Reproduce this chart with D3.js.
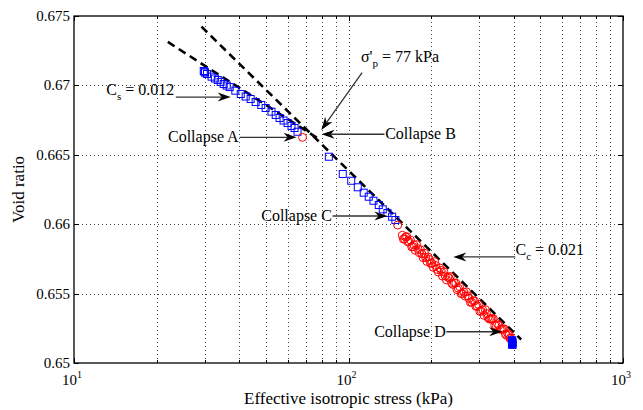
<!DOCTYPE html>
<html>
<head>
<meta charset="utf-8">
<script src="https://cdn.jsdelivr.net/npm/d3@7"></script>
<style>
  body { margin: 0; background: #fff; }
  svg { display: block; font-family: "Liberation Serif", "Times New Roman", serif; }
</style>
</head>
<body>
<div id="chart"></div>
<script>
// stage 1 : reloading, blue squares
const stressLoad1 = [29.7, 29.9, 30.0, 30.5, 31.7, 32.6, 33.4, 34.2, 35.1, 36.0, 36.9, 38.7, 40.5, 42.2, 44.0, 45.9, 48.1, 49.9, 52.4, 54.3, 56.1, 58.0, 60.0, 62.0, 63.6, 65.2];
const voidLoad1 = [0.67104, 0.67098, 0.67092, 0.67082, 0.67063, 0.6705, 0.67039, 0.67025, 0.6701, 0.66999, 0.66988, 0.66962, 0.66938, 0.6692, 0.66902, 0.6688, 0.66859, 0.66837, 0.66811, 0.66787, 0.66765, 0.66747, 0.66729, 0.66708, 0.66693, 0.66666];

// stage 2 : after collapse A/B
const stressLoad2 = [84.8, 95.3, 102.3, 108.1, 113.6, 118.5, 123.3, 128.9, 133.3, 138.6, 144.2, 148.2];
const voidLoad2 = [0.66486, 0.66362, 0.66313, 0.66266, 0.66227, 0.66198, 0.66169, 0.66138, 0.66107, 0.66081, 0.66054, 0.6603];

// collapse points (red circles on the blue path)
const collapseStress = [68.0, 151.1];
const collapseVoid = [0.66626, 0.65994];

// stage 3 : red circles
const stressLoad3 = [157, 160, 163, 166, 170, 173, 177, 181, 185, 189, 193, 197, 201, 206, 210, 215, 220, 225, 230, 235, 240, 246, 251, 257, 263, 269, 275, 281, 288, 294, 301, 308, 315, 322, 330, 337, 345, 353, 361, 369, 377, 385, 390];
const voidLoad3 = [0.6592, 0.65895, 0.6591, 0.65875, 0.65836, 0.65851, 0.65853, 0.65795, 0.65787, 0.6579, 0.65732, 0.65746, 0.6572, 0.6573, 0.65674, 0.65685, 0.65626, 0.65628, 0.6562, 0.65623, 0.65566, 0.65576, 0.65539, 0.655, 0.65511, 0.65513, 0.65465, 0.65438, 0.65447, 0.65411, 0.65372, 0.65383, 0.65385, 0.65327, 0.65317, 0.6532, 0.65271, 0.65272, 0.65244, 0.65246, 0.65199, 0.65202, 0.65181];
const stressLoad3b = [158.5, 161.5, 164.5, 168, 171.5, 175, 179, 183, 187, 191, 195, 199, 203.5, 208, 212.5, 217.5, 222.5, 227.5, 232.5, 237.5, 243, 248.5, 254, 260, 266, 272, 278, 284.5, 291, 297.5, 304.5, 311.5, 318.5, 326, 333.5, 341, 349, 357, 365, 373, 381, 387.5];
const voidLoad3b = [0.65893, 0.65908, 0.65873, 0.65886, 0.65839, 0.65812, 0.65824, 0.65816, 0.65759, 0.65761, 0.65764, 0.65718, 0.6569, 0.65702, 0.65655, 0.65666, 0.65657, 0.65599, 0.65612, 0.65575, 0.65576, 0.65528, 0.6555, 0.655, 0.65482, 0.65484, 0.65437, 0.65448, 0.65409, 0.65422, 0.65373, 0.65344, 0.65356, 0.65317, 0.65319, 0.65271, 0.65282, 0.65243, 0.65245, 0.65208, 0.65211, 0.65177];

// collapse D stack (blue)
const stressEnd = [394, 395, 396, 395, 394, 396];
const voidEnd = [0.65164, 0.65156, 0.65148, 0.6514, 0.65134, 0.65131];

// fitted lines [stress, void]
const csLine = [[21.97, 0.67313], [77, 0.66621]];
const ccLine = [[29.13, 0.67423], [425.7, 0.65169]];

const yTicks = [0.65, 0.655, 0.66, 0.665, 0.67, 0.675];
const xMajor = [10, 100, 1000];
const xExp = ["1", "2", "3"];

// annotations: text, anchor point, arrow from -> to (data units)
const notes = [
  { label: "Cs", value: " = 0.012", anchor: "end", at: [23.2, 0.66931], from: [23.49, 0.66916], to: [37.23, 0.66916] },
  { label: "Collapse A", anchor: "end", at: [39.8, 0.66626], from: [40.14, 0.66626], to: [64.7, 0.66626], mid: true },
  { label: "Collapse B", anchor: "start", at: [136, 0.66648], from: [135.2, 0.66648], to: [79.8, 0.66648], mid: true },
  { label: "σ'p", value: " = 77 kPa", anchor: "start", at: [111, 0.67169], from: [112.1, 0.67092], to: [79.6, 0.66679] },
  { label: "Collapse C", anchor: "end", at: [87.0, 0.66059], from: [87.5, 0.66059], to: [138.6, 0.66059], mid: true },
  { label: "Cc", value: " = 0.021", anchor: "start", at: [406, 0.65776], from: [404.9, 0.65764], to: [240.9, 0.65764] },
  { label: "Collapse D", anchor: "end", at: [226, 0.65225], from: [227.2, 0.65225], to: [363.1, 0.65225], mid: true }
];

const width = 643, height = 410;
const margin = { top: 16, right: 20, bottom: 47, left: 74 };

const x = d3.scaleLog().domain([10, 1000]).range([margin.left, width - margin.right]);
const y = d3.scaleLinear().domain([0.65, 0.675]).range([height - margin.bottom, margin.top]);

const svg = d3.select("#chart").append("svg")
    .attr("width", width)
    .attr("height", height);

svg.append("rect").attr("width", width).attr("height", height).attr("fill", "#fff");

const x0 = margin.left, x1 = width - margin.right, y0 = height - margin.bottom, y1 = margin.top;

// grid
const xGrid = [];
[10, 100].forEach(d => { for (let k = 2; k <= 10; k++) xGrid.push(d * k); });
const xGridLines = xGrid.filter(d => d < 1000);
const grid = svg.append("g").attr("stroke", "#444").attr("stroke-width", 1).attr("stroke-dasharray", "1,3");
grid.selectAll(".gx").data(xGridLines).join("line")
    .attr("x1", d => Math.round(x(d)) + 0.5).attr("x2", d => Math.round(x(d)) + 0.5)
    .attr("y1", y0).attr("y2", y1);
grid.selectAll(".gy").data(yTicks.slice(1, -1)).join("line")
    .attr("x1", x0).attr("x2", x1)
    .attr("y1", d => Math.round(y(d)) + 0.5).attr("y2", d => Math.round(y(d)) + 0.5);

// ticks (inward, all four sides)
const ticks = svg.append("g").attr("stroke", "#000").attr("stroke-width", 1);
ticks.selectAll(".ty").data(yTicks).join("g").each(function (d) {
  const yy = Math.round(y(d)) + 0.5;
  d3.select(this).append("line").attr("x1", x0).attr("x2", x0 + 5).attr("y1", yy).attr("y2", yy);
  d3.select(this).append("line").attr("x1", x1).attr("x2", x1 - 5).attr("y1", yy).attr("y2", yy);
});
ticks.selectAll(".tx").data(xGridLines.concat(xMajor)).join("g").each(function (d) {
  const xx = Math.round(x(d)) + 0.5;
  const len = xMajor.includes(d) ? 5 : 3;
  d3.select(this).append("line").attr("x1", xx).attr("x2", xx).attr("y1", y0).attr("y2", y0 - len);
  d3.select(this).append("line").attr("x1", xx).attr("x2", xx).attr("y1", y1).attr("y2", y1 + len);
});

// box
svg.append("rect")
    .attr("x", x0).attr("y", y1)
    .attr("width", x1 - x0).attr("height", y0 - y1)
    .attr("fill", "none").attr("stroke", "#000").attr("stroke-width", 1.3);

// tick labels
svg.append("g").selectAll("text").data(yTicks).join("text")
    .attr("x", x0 - 4).attr("y", d => y(d) + 5)
    .attr("text-anchor", "end").attr("font-size", 15)
    .text(d => String(+d.toFixed(3)));

const xl = svg.append("g").selectAll("text").data(xMajor).join("text")
    .attr("x", d => x(d) - 2).attr("y", y0 + 22)
    .attr("text-anchor", "middle").attr("font-size", 15);
xl.append("tspan").text("10");
xl.append("tspan").attr("dy", -7).attr("font-size", 10).text((d, i) => xExp[i]);

// axis titles
svg.append("text")
    .attr("x", (x0 + x1) / 2).attr("y", 404)
    .attr("text-anchor", "middle").attr("font-size", 17)
    .text("Effective isotropic stress (kPa)");
svg.append("text")
    .attr("transform", `translate(24,${(y0 + y1) / 2}) rotate(-90)`)
    .attr("text-anchor", "middle").attr("font-size", 17)
    .text("Void ratio");

// fitted dashed lines
const line = d3.line().x(d => x(d[0])).y(d => y(d[1]));
svg.append("g").selectAll("path").data([csLine, ccLine]).join("path")
    .attr("d", line)
    .attr("fill", "none").attr("stroke", "#000")
    .attr("stroke-width", 2.6).attr("stroke-dasharray", "8,5");

// data
const sq = 7;
const pts = (s, v) => s.map((d, i) => [d, v[i]]);
svg.append("g").selectAll("rect").data(pts(stressLoad1, voidLoad1).concat(pts(stressLoad2, voidLoad2))).join("rect")
    .attr("x", d => x(d[0]) - sq / 2).attr("y", d => y(d[1]) - sq / 2)
    .attr("width", sq).attr("height", sq)
    .attr("fill", "none").attr("stroke", "#0000ff").attr("stroke-width", 1);

const red = pts(stressLoad3, voidLoad3).concat(pts(stressLoad3b, voidLoad3b), pts(collapseStress, collapseVoid));
svg.append("g").selectAll("circle").data(red).join("circle")
    .attr("cx", d => x(d[0])).attr("cy", d => y(d[1]))
    .attr("r", 4)
    .attr("fill", "none").attr("stroke", "#ff0000").attr("stroke-width", 1);

svg.append("g").selectAll("rect").data(pts(stressEnd, voidEnd)).join("rect")
    .attr("x", d => x(d[0]) - sq / 2).attr("y", d => y(d[1]) - sq / 2)
    .attr("width", sq).attr("height", sq)
    .attr("fill", "#0000ff").attr("stroke", "#0000ff").attr("stroke-width", 1);

// annotations
const ann = svg.append("g");
notes.forEach(n => {
  const fx = x(n.from[0]), fy = y(n.from[1]), tx = x(n.to[0]), ty = y(n.to[1]);
  const a = Math.atan2(ty - fy, tx - fx);
  const L = 13, W = 4.5, N = 9;
  ann.append("line")
      .attr("x1", fx).attr("y1", fy)
      .attr("x2", tx - Math.cos(a) * N).attr("y2", ty - Math.sin(a) * N)
      .attr("stroke", "#333").attr("stroke-width", 1.3);
  const p = (dx, dy) => [tx + dx * Math.cos(a) - dy * Math.sin(a), ty + dx * Math.sin(a) + dy * Math.cos(a)];
  ann.append("path")
      .attr("d", "M" + [p(0, 0), p(-L, -W), p(-N, 0), p(-L, W)].join("L") + "Z")
      .attr("fill", "#000");

  const t = ann.append("text")
      .attr("x", x(n.at[0])).attr("y", y(n.at[1]) + (n.mid ? 5 : 0))
      .attr("text-anchor", n.anchor).attr("font-size", 16);
  if (n.value) {
    const base = n.label.slice(0, -1), sub = n.label.slice(-1);
    t.append("tspan").text(base);
    t.append("tspan").attr("dy", 5).attr("font-size", 11).text(sub);
    t.append("tspan").attr("dy", -5).text(n.value);
  } else {
    t.text(n.label);
  }
});
</script>
</body>
</html>
